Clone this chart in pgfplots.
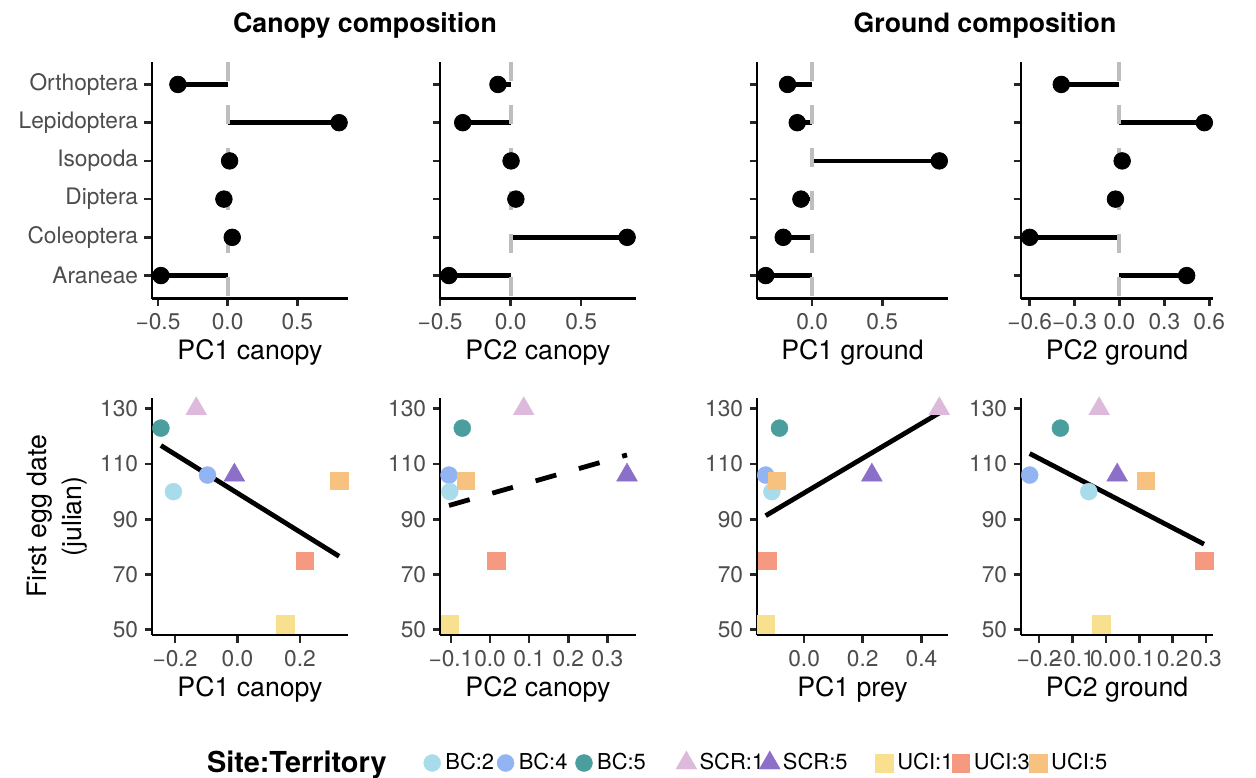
\documentclass[border=0pt]{standalone}
\usepackage{pgfplots}
\pgfplotsset{compat=1.18}
\usepackage{fontspec}
\setmainfont{TeX Gyre Heros}
\definecolor{bcA}{HTML}{A8DCEB}
\definecolor{bcB}{HTML}{93B4F3}
\definecolor{bcC}{HTML}{4A9E9E}
\definecolor{scrA}{HTML}{DDB9DC}
\definecolor{scrB}{HTML}{8B6FC9}
\definecolor{uciA}{HTML}{F8E08E}
\definecolor{uciB}{HTML}{F59A80}
\definecolor{uciC}{HTML}{F7C27F}
\definecolor{vl}{HTML}{BEBEBE}
\definecolor{tl}{HTML}{4D4D4D}
\pgfplotsset{
  panel/.style={
    scale only axis, axis lines=left,
    axis line style={-, black, line width=1.3bp},
    axis on top,
    tick align=outside, major tick length=3.75bp,
    tick style={line width=1.3bp, color=black!85},
    ticklabel style={font=\fontsize{11.4}{13}\selectfont, text=tl},
    label style={font=\fontsize{13.4}{17.5}\selectfont, text=black},
    xlabel style={at={(axis description cs:0.5,0)}, anchor=center, yshift=-27bp},
    xticklabel style={anchor=center, yshift=-8bp},
    yticklabel style={anchor=east, inner sep=0pt, xshift=-3bp},
    height=118.5bp, anchor=south west,
  },
  toprow/.style={panel, ymin=0.4, ymax=6.6, ytick={1,2,3,4,5,6}, yticklabels={}},
  botrow/.style={panel, ymin=48.1, ymax=133.9, ytick={50,70,90,110,130}, yticklabels={50,70,90,110,130}},
  lolli/.style={only marks, mark=*, mark size=4.15bp, black},
  zline/.style={vl, line width=2bp, dash pattern=on 9.5bp off 12bp},
  segm/.style={black, line width=2.25bp},
  fit/.style={black, line width=2.4bp},
  pA/.style={only marks, mark=*, mark size=4.25bp, color=bcA, line width=0.2bp},
  pB/.style={only marks, mark=*, mark size=4.25bp, color=bcB, line width=0.2bp},
  pC/.style={only marks, mark=*, mark size=4.25bp, color=bcC, line width=0.2bp},
  sA/.style={only marks, mark=triangle*, mark size=6bp, color=scrA, line width=0.2bp},
  sB/.style={only marks, mark=triangle*, mark size=6bp, color=scrB, line width=0.2bp},
  uA/.style={only marks, mark=square*, mark size=4.4bp, color=uciA, line width=0.2bp},
  uB/.style={only marks, mark=square*, mark size=4.4bp, color=uciB, line width=0.2bp},
  uC/.style={only marks, mark=square*, mark size=4.4bp, color=uciC, line width=0.2bp},
  legmark/.style={legend image code/.code={\path (-6.5bp,0bp) (6.5bp,0bp);\draw[mark repeat=2,mark phase=2,##1] plot coordinates {(-6bp,0bp) (0bp,0bp) (6bp,0bp)};}},
}
\begin{document}
\begin{tikzpicture}
\useasboundingbox (0,0) rectangle (628bp,-389bp);
\node[font=\fontsize{13.4}{16}\selectfont\bfseries, anchor=base] at (182.5bp,-16bp) {Canopy composition};
\node[font=\fontsize{13.4}{16}\selectfont\bfseries, anchor=base] at (492.5bp,-16bp) {Ground composition};

% ---------------- top row ----------------
\begin{axis}[toprow, at={(76bp,-149.25bp)}, width=98bp,
  xmin=-0.543, xmax=0.864, xtick={-0.5,0,0.5}, xticklabels={−0.5,0.0,0.5},
  yticklabels={Araneae,Coleoptera,Diptera,Isopoda,Lepidoptera,Orthoptera},
  xlabel={PC1 canopy}]
\addplot[segm] coordinates {(0,1) (-0.479,1)};
\addplot[segm] coordinates {(0,2) (0.033,2)};
\addplot[segm] coordinates {(0,3) (-0.027,3)};
\addplot[segm] coordinates {(0,4) (0.014,4)};
\addplot[segm] coordinates {(0,5) (0.800,5)};
\addplot[segm] coordinates {(0,6) (-0.357,6)};
\addplot[lolli] coordinates {(-0.479,1) (0.033,2) (-0.027,3) (0.014,4) (0.800,5) (-0.357,6)};
\addplot[zline] coordinates {(0,6.6) (0,0.4)};
\end{axis}

\begin{axis}[toprow, at={(220bp,-149.25bp)}, width=98bp,
  xmin=-0.501, xmax=0.889, xtick={-0.5,0,0.5}, xticklabels={−0.5,0.0,0.5},
  xlabel={PC2 canopy}]
\addplot[segm] coordinates {(0,1) (-0.438,1)};
\addplot[segm] coordinates {(0,2) (0.826,2)};
\addplot[segm] coordinates {(0,3) (0.037,3)};
\addplot[segm] coordinates {(0,4) (0.003,4)};
\addplot[segm] coordinates {(0,5) (-0.340,5)};
\addplot[segm] coordinates {(0,6) (-0.090,6)};
\addplot[lolli] coordinates {(-0.438,1) (0.826,2) (0.037,3) (0.003,4) (-0.340,5) (-0.090,6)};
\addplot[zline] coordinates {(0,6.6) (0,0.4)};
\end{axis}

\begin{axis}[toprow, at={(378.5bp,-149.25bp)}, width=95.5bp,
  xmin=-0.393, xmax=0.969, xtick={0,0.5}, xticklabels={0.0,0.5},
  xlabel={PC1 ground}]
\addplot[segm] coordinates {(0,1) (-0.331,1)};
\addplot[segm] coordinates {(0,2) (-0.206,2)};
\addplot[segm] coordinates {(0,3) (-0.080,3)};
\addplot[segm] coordinates {(0,4) (0.907,4)};
\addplot[segm] coordinates {(0,5) (-0.106,5)};
\addplot[segm] coordinates {(0,6) (-0.175,6)};
\addplot[lolli] coordinates {(-0.331,1) (-0.206,2) (-0.080,3) (0.907,4) (-0.106,5) (-0.175,6)};
\addplot[zline] coordinates {(0,6.6) (0,0.4)};
\end{axis}

\begin{axis}[toprow, at={(510.5bp,-149.25bp)}, width=96bp,
  xmin=-0.658, xmax=0.625, xtick={-0.6,-0.3,0,0.3,0.6}, xticklabels={−0.6,−0.3,0.0,0.3,0.6},
  xlabel={PC2 ground}]
\addplot[segm] coordinates {(0,1) (0.449,1)};
\addplot[segm] coordinates {(0,2) (-0.600,2)};
\addplot[segm] coordinates {(0,3) (-0.027,3)};
\addplot[segm] coordinates {(0,4) (0.018,4)};
\addplot[segm] coordinates {(0,5) (0.567,5)};
\addplot[segm] coordinates {(0,6) (-0.389,6)};
\addplot[lolli] coordinates {(0.449,1) (-0.600,2) (-0.027,3) (0.018,4) (0.567,5) (-0.389,6)};
\addplot[zline] coordinates {(0,6.6) (0,0.4)};
\end{axis}

% ---------------- bottom row ----------------
\begin{axis}[botrow, at={(76bp,-317.5bp)}, width=98bp,
  xmin=-0.2735, xmax=0.3535, xtick={-0.2,0,0.2}, xticklabels={−0.2,0.0,0.2},
  xlabel={PC1 canopy},
  ylabel={First egg date\\(julian)},
  ylabel style={at={(axis description cs:-0.485,0.5)}, anchor=center, align=center},
  legend style={at={(0.2806,-0.5401)}, anchor=west, draw=none, fill=none,
    inner sep=0pt, outer sep=0pt, column sep=0pt,
    nodes={inner sep=0pt, font=\fontsize{11}{13}\selectfont, text=black}},
  legend columns=9, legend cell align=left]
\addlegendimage{empty legend}
\addlegendentry{\makebox[106bp][l]{\fontsize{14.5}{16}\selectfont\bfseries Site:Territory}}
\addlegendimage{legmark, pA}\addlegendentry{\makebox[23.5bp][l]{BC:2}}
\addlegendimage{legmark, pB}\addlegendentry{\makebox[26bp][l]{BC:4}}
\addlegendimage{legmark, pC}\addlegendentry{\makebox[38bp][l]{BC:5}}
\addlegendimage{legmark, sA}\addlegendentry{\makebox[28.5bp][l]{SCR:1}}
\addlegendimage{legmark, sB}\addlegendentry{\makebox[44bp][l]{SCR:5}}
\addlegendimage{legmark, uA}\addlegendentry{\makebox[25bp][l]{UCI:1}}
\addlegendimage{legmark, uB}\addlegendentry{\makebox[25.5bp][l]{UCI:3}}
\addlegendimage{legmark, uC}\addlegendentry{UCI:5}
\addplot[pB, forget plot] coordinates {(-0.096,106)};
\addplot[pA, forget plot] coordinates {(-0.205,100)};
\addplot[pC, forget plot] coordinates {(-0.245,123)};
\addplot[sA, forget plot] coordinates {(-0.132,130)};
\addplot[sB, forget plot] coordinates {(-0.010,106)};
\addplot[uA, forget plot] coordinates {(0.153,52)};
\addplot[uB, forget plot] coordinates {(0.215,75)};
\addplot[uC, forget plot] coordinates {(0.325,104)};
\addplot[fit, forget plot] coordinates {(-0.245,116.7) (0.325,76.6)};
\end{axis}

\begin{axis}[botrow, at={(220bp,-317.5bp)}, width=98bp,
  xmin=-0.128, xmax=0.373, xtick={-0.1,0,0.1,0.2,0.3}, xticklabels={−0.1,0.0,0.1,0.2,0.3},
  xlabel={PC2 canopy}]
\addplot[pB] coordinates {(-0.105,106)};
\addplot[pA] coordinates {(-0.103,100)};
\addplot[pC] coordinates {(-0.071,123)};
\addplot[sA] coordinates {(0.086,130)};
\addplot[sB] coordinates {(0.350,106)};
\addplot[uA] coordinates {(-0.103,52)};
\addplot[uB] coordinates {(0.015,75)};
\addplot[uC] coordinates {(-0.062,104)};
\addplot[fit, dash pattern=on 10.75bp off 11.75bp] coordinates {(-0.105,95.0) (0.350,113.3)};
\end{axis}

\begin{axis}[botrow, at={(378.5bp,-317.5bp)}, width=95.5bp,
  xmin=-0.1606, xmax=0.4906, xtick={0,0.2,0.4}, xticklabels={0.0,0.2,0.4},
  xlabel={PC1 prey}]
\addplot[pB] coordinates {(-0.131,106)};
\addplot[pA] coordinates {(-0.110,100)};
\addplot[pC] coordinates {(-0.084,123)};
\addplot[sA] coordinates {(0.461,130)};
\addplot[sB] coordinates {(0.231,106)};
\addplot[uA] coordinates {(-0.131,52)};
\addplot[uB] coordinates {(-0.125,75)};
\addplot[uC] coordinates {(-0.093,104)};
\addplot[fit] coordinates {(-0.131,91.3) (0.461,128.5)};
\end{axis}

\begin{axis}[botrow, at={(510.5bp,-317.5bp)}, width=96bp,
  xmin=-0.254, xmax=0.321, xtick={-0.2,-0.1,0,0.1,0.2,0.3}, xticklabels={−0.2,−0.1,0.0,0.1,0.2,0.3},
  xlabel={PC2 ground}]
\addplot[pB] coordinates {(-0.228,106)};
\addplot[pA] coordinates {(-0.051,100)};
\addplot[pC] coordinates {(-0.136,123)};
\addplot[sA] coordinates {(-0.020,130)};
\addplot[sB] coordinates {(0.034,106)};
\addplot[uA] coordinates {(-0.013,52)};
\addplot[uB] coordinates {(0.295,75)};
\addplot[uC] coordinates {(0.119,104)};
\addplot[fit] coordinates {(-0.228,113.8) (0.294,81.0)};
\end{axis}
\end{tikzpicture}
\end{document}
